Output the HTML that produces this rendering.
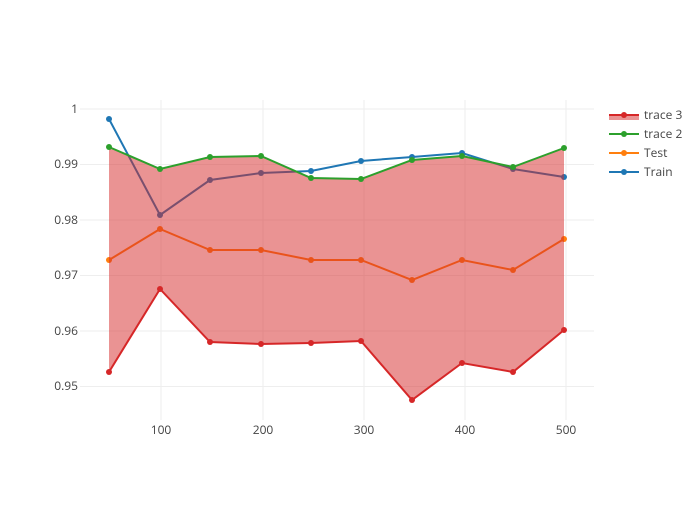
<!DOCTYPE html><html><head><style>body{margin:0;background:#fff}svg text{font-family:"Open Sans","Liberation Sans",sans-serif;font-size:12px;fill:#444}</style></head><body>
<svg width="700" height="500" xmlns="http://www.w3.org/2000/svg">
<g stroke="#eee" stroke-width="1">
<line x1="80" x2="594" y1="109" y2="109"/><line x1="80" x2="594" y1="164.5" y2="164.5"/><line x1="80" x2="594" y1="220" y2="220"/><line x1="80" x2="594" y1="275.5" y2="275.5"/><line x1="80" x2="594" y1="331" y2="331"/><line x1="80" x2="594" y1="386.5" y2="386.5"/>
<line x1="161" x2="161" y1="100" y2="420"/><line x1="263" x2="263" y1="100" y2="420"/><line x1="364" x2="364" y1="100" y2="420"/><line x1="465" x2="465" y1="100" y2="420"/><line x1="566" x2="566" y1="100" y2="420"/>
</g>
<g text-anchor="end"><text x="78" y="113">1</text><text x="78" y="168">0.99</text><text x="78" y="224">0.98</text><text x="78" y="279">0.97</text><text x="78" y="335">0.96</text><text x="78" y="390">0.95</text></g>
<g text-anchor="middle"><text x="161" y="434">100</text><text x="263" y="434">200</text><text x="364" y="434">300</text><text x="465" y="434">400</text><text x="566" y="434">500</text></g>
<g fill="none" stroke-width="2">
<polyline stroke="#1f77b4" points="109,119 160,215 210,180 261,173 311,171 361,161 412,157 462,153 513,169 564,177"/>
<polyline stroke="#ff7f0e" points="109,260 160,229 210,250 261,250 311,260 361,260 412,280 462,260 513,270 564,239"/>
</g>
<g fill="#1f77b4"><circle cx="109" cy="119" r="3"/><circle cx="160" cy="215" r="3"/><circle cx="210" cy="180" r="3"/><circle cx="261" cy="173" r="3"/><circle cx="311" cy="171" r="3"/><circle cx="361" cy="161" r="3"/><circle cx="412" cy="157" r="3"/><circle cx="462" cy="153" r="3"/><circle cx="513" cy="169" r="3"/><circle cx="564" cy="177" r="3"/></g>
<g fill="#ff7f0e"><circle cx="109" cy="260" r="3"/><circle cx="160" cy="229" r="3"/><circle cx="210" cy="250" r="3"/><circle cx="261" cy="250" r="3"/><circle cx="311" cy="260" r="3"/><circle cx="361" cy="260" r="3"/><circle cx="412" cy="280" r="3"/><circle cx="462" cy="260" r="3"/><circle cx="513" cy="270" r="3"/><circle cx="564" cy="239" r="3"/></g>
<polygon fill="rgba(214,39,40,0.5)" points="109,147 160,169 210,157 261,156 311,178 361,179 412,160 462,156 513,167 564,148 564,330 513,372 462,363 412,400 361,341 311,343 261,344 210,342 160,289 109,372"/>
<g fill="none" stroke-width="2">
<polyline stroke="#2ca02c" points="109,147 160,169 210,157 261,156 311,178 361,179 412,160 462,156 513,167 564,148"/>
<polyline stroke="#d62728" points="109,372 160,289 210,342 261,344 311,343 361,341 412,400 462,363 513,372 564,330"/>
</g>
<g fill="#2ca02c"><circle cx="109" cy="147" r="3"/><circle cx="160" cy="169" r="3"/><circle cx="210" cy="157" r="3"/><circle cx="261" cy="156" r="3"/><circle cx="311" cy="178" r="3"/><circle cx="361" cy="179" r="3"/><circle cx="412" cy="160" r="3"/><circle cx="462" cy="156" r="3"/><circle cx="513" cy="167" r="3"/><circle cx="564" cy="148" r="3"/></g>
<g fill="#d62728"><circle cx="109" cy="372" r="3"/><circle cx="160" cy="289" r="3"/><circle cx="210" cy="342" r="3"/><circle cx="261" cy="344" r="3"/><circle cx="311" cy="343" r="3"/><circle cx="361" cy="341" r="3"/><circle cx="412" cy="400" r="3"/><circle cx="462" cy="363" r="3"/><circle cx="513" cy="372" r="3"/><circle cx="564" cy="330" r="3"/></g>
<rect x="609" y="114" width="30" height="6" fill="rgba(214,39,40,0.5)"/>
<line x1="609" x2="639" y1="115" y2="115" stroke="#d62728" stroke-width="2"/><circle cx="624" cy="115" r="3" fill="#d62728"/>
<line x1="609" x2="639" y1="134" y2="134" stroke="#2ca02c" stroke-width="2"/><circle cx="624" cy="134" r="3" fill="#2ca02c"/>
<line x1="609" x2="639" y1="153" y2="153" stroke="#ff7f0e" stroke-width="2"/><circle cx="624" cy="153" r="3" fill="#ff7f0e"/>
<line x1="609" x2="639" y1="172" y2="172" stroke="#1f77b4" stroke-width="2"/><circle cx="624" cy="172" r="3" fill="#1f77b4"/>
<text x="644" y="119">trace 3</text><text x="644" y="138">trace 2</text><text x="644" y="157">Test</text><text x="644" y="176">Train</text>
</svg></body></html>
